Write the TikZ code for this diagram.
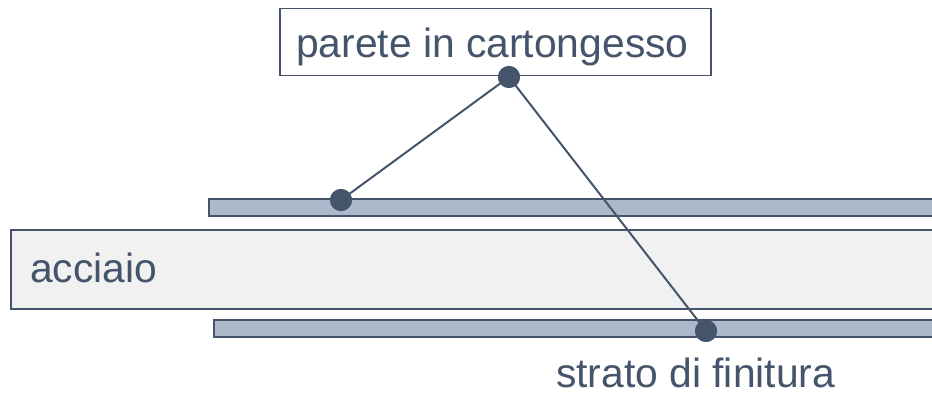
\documentclass[tikz,border=0pt]{standalone}
\usepackage{fontspec}
\setmainfont{Liberation Sans}
\definecolor{ink}{HTML}{44546A}
\definecolor{strip}{HTML}{ADB9CA}
\definecolor{steel}{HTML}{F1F1F1}
\begin{document}
\begin{tikzpicture}[x=1pt,y=1pt,
  outline/.style={draw=ink,line width=2pt},
  lbl/.style={anchor=base west,inner sep=0pt,text=ink,font=\fontsize{40.8}{40.8}\selectfont},
  dot/.style={circle,fill=ink,inner sep=0pt,minimum size=22pt},
  conn/.style={draw=ink,line width=2pt}]
\useasboundingbox (0,0) rectangle (932,396);
\begin{scope}
\clip (0,0) rectangle (932,396);
% layers
\node[outline,fill=strip,anchor=south west,minimum width=740pt,minimum height=17pt,inner sep=0pt] (top) at (208,179) {};
\node[outline,fill=steel,anchor=south west,minimum width=940pt,minimum height=79pt,inner sep=0pt] (steel) at (10,86) {};
\node[outline,fill=strip,anchor=south west,minimum width=740pt,minimum height=17pt,inner sep=0pt] (bot) at (213,58) {};
% label box
\node[draw=ink,line width=1.5pt,fill=white,anchor=north west,minimum width=431pt,minimum height=67pt,inner sep=0pt] (box) at (279,388) {};
\end{scope}
\node[lbl] (t1) at (296,338) {parete in cartongesso};
\node[lbl] (t2) at (30,113) {acciaio};
\node[lbl] (t3) at (556,8) {strato di finitura};
% dots and connectors
\node[dot] (d0) at (509,319) {};
\node[dot] (d1) at (341,196) {};
\node[dot] (d2) at (706,65) {};
\draw[conn] (d0.center) -- (d1.center);
\draw[conn] (d0.center) -- (d2.center);
\node[dot] at (d0) {};
\node[dot] at (d1) {};
\node[dot] at (d2) {};
\end{tikzpicture}
\end{document}
